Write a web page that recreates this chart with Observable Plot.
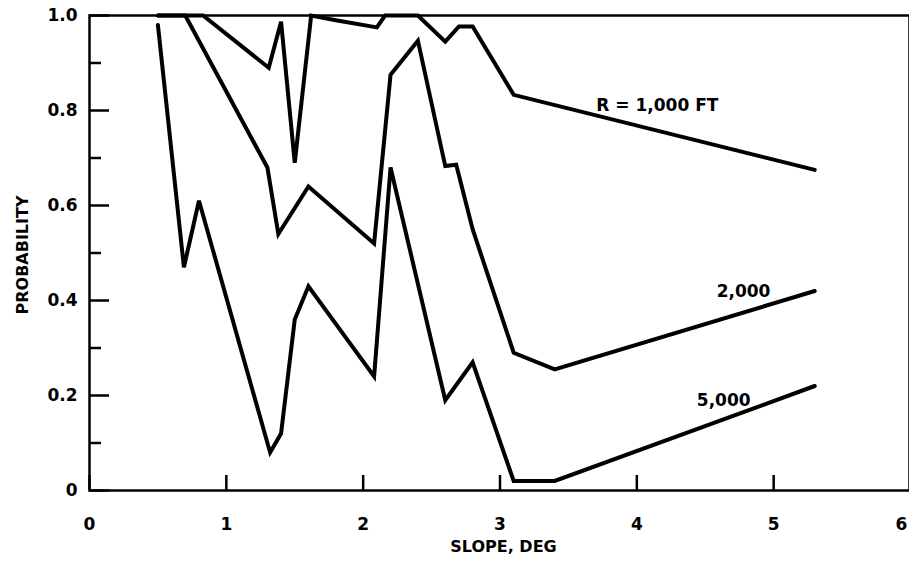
<!DOCTYPE html>
<html>
<head>
<meta charset="utf-8">
<script src="https://cdn.jsdelivr.net/npm/d3@7"></script>
<script src="https://cdn.jsdelivr.net/npm/@observablehq/plot@0.6"></script>
<style>
  body { margin: 0; background: #fff; }
</style>
</head>
<body>
<div id="chart"></div>
<script>
// R = 1,000 FT
const slope1000 = [0.5, 0.83, 1.31, 1.4, 1.5, 1.62, 1.8, 2.1, 2.16, 2.4, 2.6, 2.7, 2.8, 3.1, 5.3];
const prob1000  = [1.0, 1.0, 0.89, 0.987, 0.69, 1.0, 0.99, 0.975, 1.0, 1.0, 0.945, 0.977, 0.977, 0.833, 0.675];
// R = 2,000 FT
const slope2000 = [0.5, 0.7, 1.3, 1.38, 1.6, 2.08, 2.2, 2.4, 2.6, 2.68, 2.8, 3.1, 3.4, 5.3];
const prob2000  = [1.0, 1.0, 0.68, 0.54, 0.64, 0.52, 0.875, 0.947, 0.683, 0.686, 0.55, 0.29, 0.255, 0.42];
// R = 5,000 FT
const slope5000 = [0.5, 0.69, 0.8, 1.32, 1.4, 1.5, 1.6, 2.08, 2.2, 2.6, 2.8, 3.1, 3.4, 5.3];
const prob5000  = [0.98, 0.47, 0.61, 0.08, 0.12, 0.36, 0.43, 0.24, 0.68, 0.19, 0.27, 0.02, 0.02, 0.22];

const seriesNames = ["1,000", "2,000", "5,000"];
const curveLabels = ["R = 1,000 FT", "2,000", "5,000"];
const labelSlope = [4.15, 4.78, 4.635];
const labelProb  = [0.81, 0.418, 0.189];

const xTicks = [0, 1, 2, 3, 4, 5];
const xTickLast = [6];
const yTicksMajor = [0, 0.2, 0.4, 0.6, 0.8, 1.0];
const yTicksMinor = [0.1, 0.3, 0.5, 0.7, 0.9];
const xTitle = "SLOPE, DEG";
const yTitle = "PROBABILITY";

const seriesX = [slope1000, slope2000, slope5000];
const seriesY = [prob1000, prob2000, prob5000];
const rows = seriesNames.flatMap((name, s) =>
  seriesX[s].map((x, i) => ({series: name, slope: x, prob: seriesY[s][i]})));

const yFmt = d => d === 0 ? "0" : d.toFixed(1);
const FONT = "'DejaVu Sans', 'Liberation Sans', Arial, sans-serif";

const chart = Plot.plot({
  width: 909,
  height: 564,
  marginLeft: 89,
  marginTop: 15,
  marginBottom: 74,
  marginRight: 0,
  x: {domain: [0, 6], range: [89, 910], label: null},
  y: {domain: [0, 1], label: null},
  style: {fontFamily: FONT, background: "#fff", color: "#000"},
  marks: [
    Plot.frame({stroke: "#000", strokeWidth: 2.5}),
    Plot.axisY(yTicksMajor, {tickSize: -20, tickFormat: () => "", strokeWidth: 2.5, label: null}),
    Plot.axisY(yTicksMinor, {tickSize: -12, tickFormat: () => "", strokeWidth: 2.5, label: null}),
    Plot.axisY(yTicksMajor, {tickSize: 0, tickPadding: 12, tickFormat: yFmt, fontSize: 17, fontWeight: "bold", label: null}),
    Plot.axisX(xTicks.concat(xTickLast), {tickSize: -15, tickFormat: () => "", strokeWidth: 2.5, label: null}),
    Plot.axisX(xTicks, {tickSize: 0, tickPadding: 27, tickFormat: d => String(d), fontSize: 17, fontWeight: "bold", label: null}),
    Plot.axisX(xTickLast, {tickSize: 0, tickPadding: 27, dx: -9, tickFormat: d => String(d), fontSize: 17, fontWeight: "bold", label: null}),
    Plot.line(rows, {x: "slope", y: "prob", z: "series", stroke: "#000", strokeWidth: 4,
      strokeLinejoin: "miter", strokeMiterlimit: 3}),
    Plot.text(curveLabels, {x: (d, i) => labelSlope[i], y: (d, i) => labelProb[i], text: d => d,
      fontSize: 17, fontWeight: "bold"}),
    Plot.text([yTitle], {frameAnchor: "left", textAnchor: "middle", dx: -67, dy: 2, rotate: -90, text: d => d, fontSize: 16, fontWeight: "bold"}),
    Plot.text([xTitle], {frameAnchor: "bottom", dx: 4, dy: 61, text: d => d, fontSize: 16, fontWeight: "bold"})
  ]
});
document.getElementById("chart").appendChild(chart);
</script>
</body>
</html>
